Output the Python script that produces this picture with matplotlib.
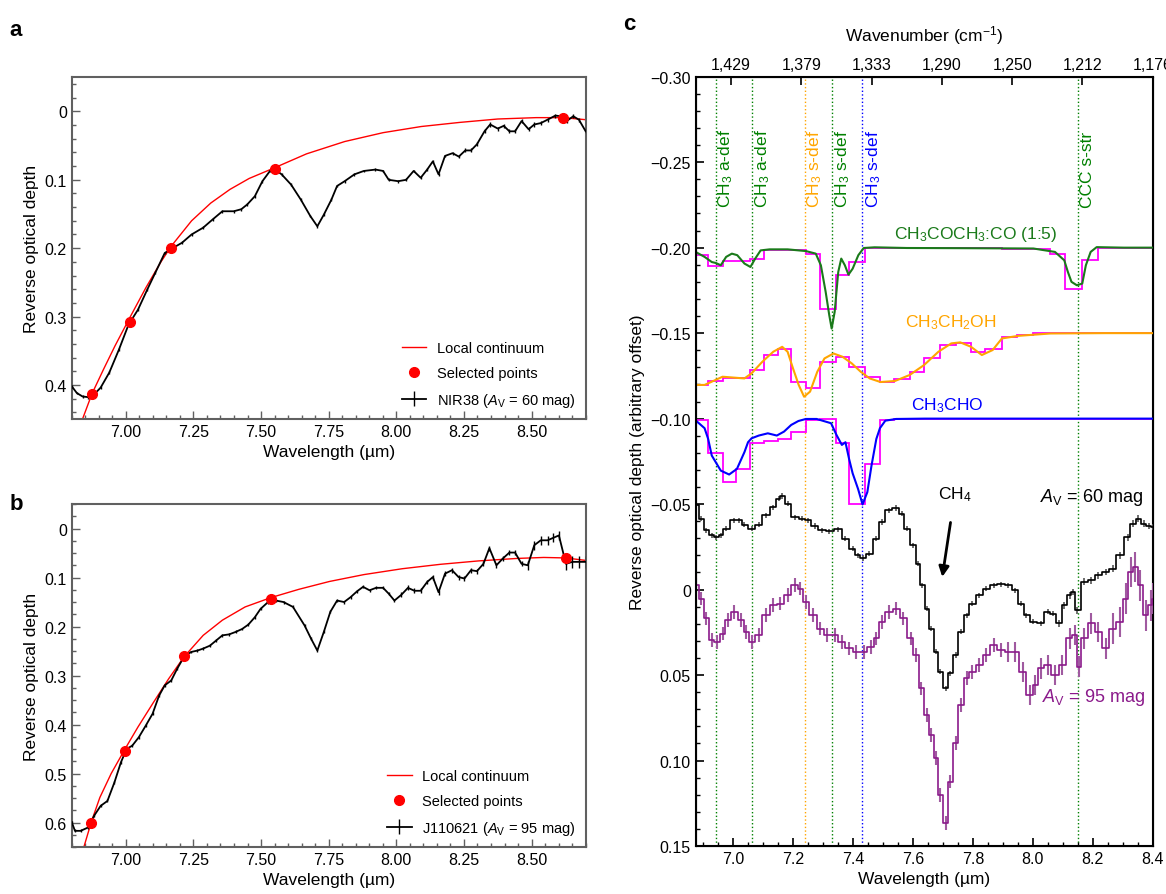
import numpy as np
import matplotlib.pyplot as plt
from matplotlib.ticker import MultipleLocator, FuncFormatter

plt.rcParams['font.family'] = ['Liberation Sans', 'DejaVu Sans']
plt.rcParams['mathtext.fontset'] = 'custom'
plt.rcParams['mathtext.rm'] = 'Liberation Sans'
plt.rcParams['mathtext.it'] = 'Liberation Sans:italic'

# PANEL a : NIR38 (Av = 60 mag)
# ==============================
a_wl = [6.800, 6.819, 6.840, 6.861, 6.883, 6.907, 6.939, 6.975, 7.010, 7.045,
        7.080, 7.109, 7.144, 7.173, 7.208, 7.243, 7.286, 7.321, 7.357, 7.399,
        7.427, 7.449, 7.477, 7.505, 7.533, 7.552, 7.576, 7.611, 7.647, 7.682,
        7.708, 7.732, 7.760, 7.781, 7.809, 7.845, 7.880, 7.923, 7.951, 7.972,
        8.007, 8.036, 8.064, 8.090, 8.114, 8.135, 8.156, 8.180, 8.208, 8.231,
        8.255, 8.276, 8.298, 8.326, 8.347, 8.375, 8.397, 8.418, 8.439, 8.463,
        8.489, 8.510, 8.534, 8.559, 8.588, 8.609, 8.630, 8.654, 8.675, 8.700]
a_tau = [0.402, 0.412, 0.417, 0.418, 0.414, 0.404, 0.382, 0.348, 0.312, 0.290,
         0.260, 0.236, 0.207, 0.200, 0.192, 0.180, 0.170, 0.158, 0.146, 0.146,
         0.143, 0.136, 0.124, 0.102, 0.087, 0.085, 0.092, 0.107, 0.129, 0.153,
         0.168, 0.151, 0.129, 0.109, 0.102, 0.092, 0.087, 0.085, 0.087, 0.100,
         0.102, 0.100, 0.087, 0.097, 0.085, 0.073, 0.092, 0.065, 0.061, 0.066,
         0.057, 0.057, 0.048, 0.029, 0.019, 0.025, 0.021, 0.029, 0.029, 0.014,
         0.026, 0.019, 0.017, 0.012, 0.006, 0.007, 0.014, 0.007, 0.012, 0.029]
a_err = [0.002] * 50 + [0.003] * 20
a_sel_wl = [6.875, 7.017, 7.168, 7.552, 8.616]
a_sel_tau = [0.414, 0.308, 0.200, 0.084, 0.010]
a_cont_wl = [6.840, 6.875, 6.918, 6.960, 7.017, 7.074, 7.130, 7.168, 7.243, 7.314,
             7.385, 7.456, 7.552, 7.668, 7.809, 7.951, 8.092, 8.234, 8.375, 8.517,
             8.616, 8.700]
a_cont_tau = [0.450, 0.413, 0.377, 0.343, 0.300, 0.258, 0.220, 0.197, 0.160, 0.134,
              0.114, 0.098, 0.082, 0.062, 0.044, 0.031, 0.022, 0.016, 0.011, 0.009,
              0.009, 0.012]

# PANEL b : J110621 (Av = 95 mag)
# ================================
b_wl = [6.800, 6.812, 6.833, 6.861, 6.883, 6.907, 6.932, 6.958, 6.982, 7.003,
        7.024, 7.048, 7.074, 7.099, 7.123, 7.144, 7.168, 7.190, 7.215, 7.241,
        7.265, 7.286, 7.311, 7.335, 7.357, 7.382, 7.406, 7.430, 7.453, 7.477,
        7.498, 7.526, 7.555, 7.583, 7.618, 7.661, 7.685, 7.708, 7.732, 7.756,
        7.781, 7.807, 7.831, 7.855, 7.877, 7.901, 7.925, 7.951, 7.972, 7.993,
        8.019, 8.043, 8.067, 8.090, 8.114, 8.135, 8.156, 8.180, 8.206, 8.230,
        8.252, 8.276, 8.298, 8.322, 8.344, 8.370, 8.394, 8.418, 8.439, 8.463,
        8.486, 8.510, 8.534, 8.559, 8.580, 8.601, 8.627, 8.651, 8.675, 8.700]
b_tau = [0.599, 0.617, 0.617, 0.610, 0.586, 0.566, 0.556, 0.518, 0.477, 0.450,
         0.443, 0.426, 0.402, 0.378, 0.341, 0.320, 0.310, 0.286, 0.262, 0.252,
         0.249, 0.245, 0.239, 0.228, 0.218, 0.216, 0.211, 0.205, 0.196, 0.181,
         0.164, 0.150, 0.147, 0.150, 0.160, 0.198, 0.225, 0.249, 0.211, 0.170,
         0.147, 0.150, 0.140, 0.128, 0.119, 0.126, 0.121, 0.121, 0.133, 0.147,
         0.135, 0.121, 0.127, 0.127, 0.109, 0.099, 0.130, 0.092, 0.085, 0.099,
         0.102, 0.085, 0.087, 0.072, 0.040, 0.075, 0.061, 0.049, 0.049, 0.072,
         0.075, 0.034, 0.024, 0.024, 0.019, 0.014, 0.072, 0.068, 0.068, 0.068]
b_err = [0.003] * 50 + [0.005] * 20 + [0.009] * 6 + [0.012] * 4
b_sel_wl = [6.873, 6.997, 7.215, 7.536, 8.626]
b_sel_tau = [0.601, 0.455, 0.260, 0.143, 0.061]
b_cont_wl = [6.845, 6.873, 6.904, 6.946, 6.997, 7.045, 7.102, 7.158, 7.215, 7.286,
             7.357, 7.441, 7.536, 7.640, 7.753, 7.880, 8.022, 8.163, 8.305, 8.446,
             8.545, 8.626, 8.700]
b_cont_tau = [0.650, 0.598, 0.549, 0.500, 0.450, 0.405, 0.355, 0.307, 0.262, 0.218,
              0.187, 0.160, 0.141, 0.124, 0.108, 0.094, 0.082, 0.073, 0.066, 0.061,
              0.059, 0.060, 0.065]

# PANEL c : lab spectra (smooth) and binned versions (steps)
# ==========================================================
bin_edges = [6.875, 6.915, 6.965, 7.011, 7.056, 7.104, 7.149, 7.194, 7.243, 7.291,
             7.342, 7.387, 7.439, 7.490, 7.538, 7.589, 7.637, 7.689, 7.743, 7.794,
             7.842, 7.897, 7.948, 8.002, 8.056, 8.107, 8.165, 8.219, 8.273, 8.334,
             8.400]

acet_wl = [6.875, 6.905, 6.929, 6.943, 6.959, 6.977, 6.996, 7.014, 7.038, 7.058,
           7.074, 7.092, 7.122, 7.182, 7.243, 7.276, 7.293, 7.309, 7.321, 7.329,
           7.339, 7.351, 7.361, 7.373, 7.385, 7.399, 7.418, 7.436, 7.472, 7.580,
           7.761, 8.002, 8.074, 8.105, 8.117, 8.129, 8.147, 8.165, 8.177, 8.193,
           8.213, 8.304, 8.400]
acet_tau = [-0.1975, -0.1946, -0.1916, -0.1910, -0.1897, -0.1946, -0.1965, -0.1956, -0.1907, -0.1887,
            -0.1936, -0.1984, -0.1990, -0.1990, -0.1980, -0.1965, -0.1897, -0.1741, -0.1605, -0.1527,
            -0.1624, -0.1858, -0.1936, -0.1897, -0.1842, -0.1877, -0.1956, -0.1998, -0.2002, -0.1998,
            -0.1997, -0.1995, -0.1975, -0.1926, -0.1858, -0.1800, -0.1780, -0.1790, -0.1897, -0.1975,
            -0.2003, -0.2000, -0.2000]
acet_bin = [-0.1958, -0.1891, -0.1920, -0.1920, -0.1932, -0.1988, -0.1988, -0.1988, -0.1965, -0.1640,
            -0.1842, -0.1916, -0.1999, -0.1998, -0.1997, -0.1997, -0.1997, -0.1997, -0.1996, -0.1996,
            -0.1996, -0.1995, -0.1995, -0.1995, -0.1963, -0.1761, -0.1926, -0.2000, -0.2000, -0.2000]

etoh_wl = [6.875, 6.905, 6.929, 6.965, 7.002, 7.038, 7.062, 7.098, 7.134, 7.164,
           7.182, 7.200, 7.219, 7.237, 7.257, 7.281, 7.305, 7.335, 7.365, 7.396,
           7.426, 7.456, 7.492, 7.540, 7.589, 7.637, 7.685, 7.728, 7.758, 7.794,
           7.830, 7.866, 7.897, 7.951, 8.059, 8.240, 8.400]
etoh_tau = [-0.1197, -0.1197, -0.1216, -0.1245, -0.1240, -0.1235, -0.1265, -0.1333, -0.1391, -0.1420,
            -0.1391, -0.1294, -0.1197, -0.1128, -0.1158, -0.1274, -0.1352, -0.1381, -0.1362, -0.1323,
            -0.1274, -0.1235, -0.1214, -0.1220, -0.1255, -0.1313, -0.1391, -0.1440, -0.1446, -0.1420,
            -0.1372, -0.1401, -0.1469, -0.1484, -0.1498, -0.1500, -0.1500]
etoh_bin = [-0.1197, -0.1220, -0.1239, -0.1239, -0.1284, -0.1372, -0.1407, -0.1216, -0.1177, -0.1333,
            -0.1362, -0.1304, -0.1245, -0.1216, -0.1230, -0.1270, -0.1356, -0.1430, -0.1440, -0.1391,
            -0.1410, -0.1479, -0.1488, -0.1500, -0.1500, -0.1500, -0.1500, -0.1500, -0.1500, -0.1500]

acal_wl = [6.875, 6.905, 6.917, 6.929, 6.959, 6.987, 7.013, 7.038, 7.050, 7.062,
           7.086, 7.116, 7.146, 7.170, 7.194, 7.218, 7.243, 7.279, 7.327, 7.345,
           7.363, 7.375, 7.387, 7.399, 7.417, 7.432, 7.448, 7.462, 7.478, 7.490,
           7.508, 7.544, 7.641, 8.400]
acal_tau = [-0.0990, -0.0944, -0.0881, -0.0784, -0.0696, -0.0673, -0.0706, -0.0804, -0.0862, -0.0885,
            -0.0901, -0.0914, -0.0901, -0.0924, -0.0963, -0.0986, -0.0998, -0.0998, -0.0973, -0.0905,
            -0.0846, -0.0862, -0.0765, -0.0680, -0.0589, -0.0498, -0.0570, -0.0726, -0.0881, -0.0944,
            -0.0988, -0.0998, -0.1000, -0.1000]
acal_bin = [-0.0990, -0.0798, -0.0628, -0.0706, -0.0856, -0.0870, -0.0880, -0.0924, -0.0992, -0.0998,
            -0.0856, -0.0498, -0.0735, -0.0992, -0.1000, -0.1000, -0.1000, -0.1000, -0.1000, -0.1000,
            -0.1000, -0.1000, -0.1000, -0.1000, -0.1000, -0.1000, -0.1000, -0.1000, -0.1000, -0.1000]

# PANEL c : observed spectra
obs60_wl = [6.878, 6.893, 6.911, 6.929, 6.944, 6.959, 6.977, 7.002, 7.020, 7.038,
            7.062, 7.086, 7.110, 7.134, 7.152, 7.164, 7.182, 7.207, 7.231, 7.249,
            7.273, 7.297, 7.321, 7.351, 7.375, 7.399, 7.418, 7.432, 7.454, 7.478,
            7.496, 7.520, 7.542, 7.562, 7.580, 7.602, 7.616, 7.632, 7.647, 7.662,
            7.677, 7.692, 7.710, 7.725, 7.743, 7.761, 7.779, 7.797, 7.821, 7.845,
            7.870, 7.894, 7.918, 7.942, 7.960, 7.978, 8.002, 8.026, 8.050, 8.068,
            8.087, 8.105, 8.123, 8.135, 8.149, 8.171, 8.195, 8.219, 8.243, 8.267,
            8.291, 8.316, 8.334, 8.352, 8.370, 8.388, 8.400]
obs60_tau = [-0.0492, -0.0414, -0.0346, -0.0317, -0.0307, -0.0317, -0.0356, -0.0405, -0.0405, -0.0379,
             -0.0356, -0.0379, -0.0434, -0.0482, -0.0531, -0.0547, -0.0502, -0.0424, -0.0414, -0.0405,
             -0.0372, -0.0346, -0.0340, -0.0352, -0.0298, -0.0239, -0.0200, -0.0185, -0.0210, -0.0298,
             -0.0395, -0.0463, -0.0477, -0.0444, -0.0356, -0.0259, -0.0152, -0.0025, 0.0111, 0.0228,
             0.0364, 0.0481, 0.0578, 0.0490, 0.0383, 0.0247, 0.0150, 0.0082, 0.0033, -0.0006,
             -0.0025, -0.0031, -0.0025, 0.0004, 0.0082, 0.0150, 0.0189, 0.0198, 0.0130, 0.0140,
             0.0198, 0.0091, 0.0033, 0.0014, 0.0121, -0.0045, -0.0054, -0.0084, -0.0103, -0.0123,
             -0.0200, -0.0307, -0.0385, -0.0414, -0.0385, -0.0372, -0.0366]
obs60_err = [0.0015] * 60 + [0.002] * 17

obs95_wl = [6.878, 6.893, 6.911, 6.929, 6.947, 6.965, 6.984, 7.004, 7.026, 7.044,
            7.062, 7.086, 7.110, 7.134, 7.158, 7.182, 7.207, 7.225, 7.243, 7.267,
            7.291, 7.315, 7.339, 7.363, 7.387, 7.411, 7.436, 7.460, 7.478, 7.496,
            7.520, 7.544, 7.568, 7.592, 7.610, 7.628, 7.647, 7.662, 7.677, 7.692,
            7.710, 7.725, 7.743, 7.761, 7.779, 7.797, 7.821, 7.845, 7.870, 7.894,
            7.918, 7.942, 7.966, 7.990, 8.008, 8.026, 8.050, 8.074, 8.099, 8.123,
            8.141, 8.153, 8.171, 8.195, 8.219, 8.243, 8.267, 8.291, 8.310, 8.328,
            8.341, 8.359, 8.376, 8.394, 8.400]
obs95_tau = [-0.0025, 0.0053, 0.0169, 0.0296, 0.0305, 0.0257, 0.0179, 0.0130, 0.0179, 0.0247,
             0.0305, 0.0267, 0.0150, 0.0091, 0.0082, 0.0033, -0.0025, -0.0006, 0.0072, 0.0150,
             0.0228, 0.0267, 0.0267, 0.0305, 0.0344, 0.0364, 0.0364, 0.0335, 0.0286, 0.0189,
             0.0130, 0.0111, 0.0169, 0.0286, 0.0383, 0.0578, 0.0733, 0.0850, 0.0986, 0.1200,
             0.1366, 0.1123, 0.0899, 0.0675, 0.0519, 0.0481, 0.0442, 0.0383, 0.0325, 0.0354,
             0.0364, 0.0364, 0.0481, 0.0617, 0.0558, 0.0461, 0.0442, 0.0500, 0.0442, 0.0286,
             0.0267, 0.0451, 0.0286, 0.0198, 0.0247, 0.0344, 0.0228, 0.0189, 0.0053, -0.0103,
             -0.0132, -0.0025, 0.0150, 0.0091, 0.0053]
obs95_err = [0.004] * 50 + [0.006] * 16 + [0.009] * 9

# bandes identificadas
band_wl = [6.943, 7.062, 7.240, 7.329, 7.431, 8.151]
band_col = ['green', 'green', 'orange', 'green', 'blue', 'green']
band_lbl = ['CH$_3$ a-def', 'CH$_3$ a-def', 'CH$_3$ s-def', 'CH$_3$ s-def', 'CH$_3$ s-def', 'CCC s-str']
band_lbl_x = [6.977, 7.099, 7.271, 7.364, 7.469, 8.183]

wn_pos = [7.0, 7.25, 7.5, 7.75, 8.0, 8.25, 8.5]
wn_lbl = ['1,429', '1,379', '1,333', '1,290', '1,250', '1,212', '1,176']


fig = plt.figure(figsize=(11.66, 8.95), dpi=100)

grey = '#606060'
tick_fs = 11.5
lab_fs = 12.5


def style_ab(ax):
    for s in ax.spines.values():
        s.set_color(grey)
        s.set_linewidth(1.5)
    ax.tick_params(which='both', direction='in', top=False, right=False,
                   color=grey, labelsize=tick_fs, width=1)
    ax.tick_params(which='major', length=6)
    ax.tick_params(which='minor', length=3)
    ax.xaxis.set_major_locator(MultipleLocator(0.25))
    ax.xaxis.set_minor_locator(MultipleLocator(0.05))
    ax.yaxis.set_major_locator(MultipleLocator(0.1))
    ax.xaxis.set_major_formatter(FuncFormatter(lambda v, p: '%.2f' % v))
    ax.yaxis.set_major_formatter(FuncFormatter(lambda v, p: '%g' % round(v, 2)))
    ax.set_xlim(6.8, 8.7)
    ax.set_xlabel('Wavelength (µm)', fontsize=lab_fs)
    ax.set_ylabel('Reverse optical depth', fontsize=lab_fs)


leg_kw = dict(loc='lower right', frameon=False, fontsize=10.5, handlelength=1.7,
              handletextpad=0.7, borderaxespad=0.3, labelspacing=0.75)

# panel a
ax_a = fig.add_axes([0.0615, 0.5307, 0.4408, 0.3818])
ax_a.plot(a_cont_wl, a_cont_tau, color='red', lw=1, label='Local continuum', zorder=2)
ax_a.plot(a_sel_wl, a_sel_tau, 'o', color='red', ms=7, label='Selected points', zorder=4)
ax_a.errorbar(a_wl, a_tau, yerr=a_err, color='black', lw=1.3, elinewidth=1,
              capsize=0, label='NIR38 ($A_\\mathrm{V}$ = 60 mag)', zorder=3)
style_ab(ax_a)
ax_a.yaxis.set_minor_locator(MultipleLocator(0.02))
ax_a.set_ylim(0.45, -0.05)
ax_a.legend(**leg_kw)

# panel b
ax_b = fig.add_axes([0.0615, 0.0525, 0.4408, 0.3832])
ax_b.plot(b_cont_wl, b_cont_tau, color='red', lw=1, label='Local continuum', zorder=2)
ax_b.plot(b_sel_wl, b_sel_tau, 'o', color='red', ms=7, label='Selected points', zorder=4)
ax_b.errorbar(b_wl, b_tau, yerr=b_err, color='black', lw=1.3, elinewidth=1,
              capsize=0, label='J110621 ($A_\\mathrm{V}$ = 95 mag)', zorder=3)
style_ab(ax_b)
ax_b.yaxis.set_minor_locator(MultipleLocator(0.025))
ax_b.set_ylim(0.65, -0.05)
ax_b.legend(**leg_kw)

# panel c
ax_c = fig.add_axes([0.5967, 0.0536, 0.3919, 0.8596])
for wl, col in zip(band_wl, band_col):
    ax_c.axvline(wl, color=col, ls=':', lw=1, zorder=1)
for xl, col, lbl in zip(band_lbl_x, band_col, band_lbl):
    ax_c.text(xl, -0.2235, lbl, color=col, rotation=90, ha='center', va='bottom', fontsize=12.5)

ax_c.stairs(acet_bin, bin_edges, color='magenta', lw=1.3, zorder=2)
ax_c.plot(acet_wl, acet_tau, color='#1a7a1a', lw=1.5, zorder=3)
ax_c.stairs(etoh_bin, bin_edges, color='magenta', lw=1.3, zorder=2)
ax_c.plot(etoh_wl, etoh_tau, color='orange', lw=1.5, zorder=3)
ax_c.stairs(acal_bin, bin_edges, color='magenta', lw=1.3, zorder=2)
ax_c.plot(acal_wl, acal_tau, color='blue', lw=1.5, zorder=3)

ax_c.errorbar(obs95_wl, obs95_tau, yerr=obs95_err, fmt='none', ecolor='#a05aa0',
              elinewidth=1.5, capsize=0, zorder=3)
ax_c.step(obs95_wl, obs95_tau, where='mid', color='#8b1a8b', lw=1.2, zorder=4)
ax_c.errorbar(obs60_wl, obs60_tau, yerr=obs60_err, fmt='none', ecolor='#555555',
              elinewidth=1.2, capsize=0, zorder=3)
ax_c.step(obs60_wl, obs60_tau, where='mid', color='black', lw=1.2, zorder=4)

ax_c.text(7.81, -0.208, 'CH$_3$COCH$_3$:CO (1:5)', color='#1a7a1a', ha='center', va='center', fontsize=12.5)
ax_c.text(7.725, -0.157, 'CH$_3$CH$_2$OH', color='orange', ha='center', va='center', fontsize=12.5)
ax_c.text(7.715, -0.108, 'CH$_3$CHO', color='blue', ha='center', va='center', fontsize=12.5)
ax_c.annotate('CH$_4$', xy=(7.698, -0.0074), xytext=(7.74, -0.056), ha='center', va='center',
              fontsize=12.5, arrowprops=dict(arrowstyle='-|>', color='black', lw=2,
                                             shrinkA=12, shrinkB=0, mutation_scale=15))
ax_c.text(8.368, -0.0545, '$A_\\mathrm{V}$ = 60 mag', color='black', ha='right', va='center', fontsize=13)
ax_c.text(8.375, 0.0625, '$A_\\mathrm{V}$ = 95 mag', color='#8b1a8b', ha='right', va='center', fontsize=13)

for s in ax_c.spines.values():
    s.set_linewidth(1.5)
ax_c.set_xlim(6.8756, 8.4)
ax_c.set_ylim(0.15, -0.30)
ax_c.xaxis.set_major_locator(MultipleLocator(0.2))
ax_c.xaxis.set_minor_locator(MultipleLocator(0.05))
ax_c.yaxis.set_major_locator(MultipleLocator(0.05))
ax_c.yaxis.set_minor_locator(MultipleLocator(0.01))
ax_c.xaxis.set_major_formatter(FuncFormatter(lambda v, p: '%.1f' % v))
ax_c.yaxis.set_major_formatter(FuncFormatter(
    lambda v, p: '0' if abs(v) < 1e-9 else ('%.2f' % v).replace('-', '\u2212')))
ax_c.tick_params(which='both', direction='in', top=False, right=False, labelsize=tick_fs)
ax_c.tick_params(which='major', length=6, width=1.2)
ax_c.tick_params(which='minor', length=3, width=1)
ax_c.set_xlabel('Wavelength (µm)', fontsize=lab_fs)
ax_c.set_ylabel('Reverse optical depth (arbitrary offset)', fontsize=lab_fs)

ax_top = ax_c.twiny()
ax_top.set_xlim(6.874, 8.5)
ax_top.set_xticks(wn_pos)
ax_top.set_xticklabels(wn_lbl)
ax_top.tick_params(direction='in', length=6, width=1.2, labelsize=tick_fs)
ax_top.set_xlabel('Wavenumber (cm$^{-1}$)', fontsize=lab_fs, labelpad=12)

fig.text(0.008, 0.966, 'a', fontsize=16, weight='bold', va='center')
fig.text(0.008, 0.436, 'b', fontsize=16, weight='bold', va='center')
fig.text(0.534, 0.973, 'c', fontsize=16, weight='bold', va='center')

plt.savefig('out.png', dpi=100)
